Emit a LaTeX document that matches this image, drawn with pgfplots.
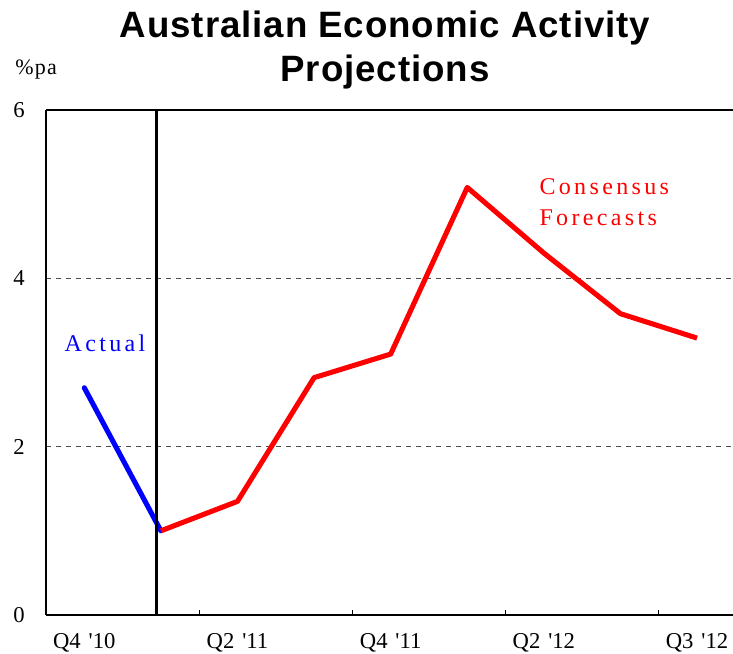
\documentclass[border=0pt]{standalone}
\usepackage{fontspec}
\setmainfont{Liberation Serif}
\newfontfamily\titlefont[LetterSpace=2.5]{Liberation Sans}
\newfontfamily\spaced[LetterSpace=14]{Liberation Serif}
\newfontfamily\pafont[LetterSpace=6]{Liberation Serif}
\usepackage{pgfplots}
\pgfplotsset{compat=1.18}
\definecolor{pblue}{RGB}{0,0,255}
\definecolor{pred}{RGB}{255,0,0}
\begin{document}
\begin{tikzpicture}
\begin{axis}[
  name=ax,
  at={(0,0)}, anchor=south west,
  scale only axis,
  width=517pt, height=378.75pt,
  xmin=-0.5, xmax=8.5,
  ymin=0, ymax=6,
  axis x line=box, axis y line=left,
  axis line style={-, line width=1.3pt, black},
  xtick={0,2,4,6,8},
  xticklabels={Q4\hspace{0.35em}\textquotesingle10, Q2\hspace{0.35em}\textquotesingle11, Q4\hspace{0.35em}\textquotesingle11, Q2\hspace{0.35em}\textquotesingle12, Q3\hspace{0.35em}\textquotesingle12},
  minor xtick={1.5,3.5,5.5,7.5},
  xtick pos=bottom,
  ytick={0,2,4,6},
  major tick length=0pt,
  minor tick length=4pt,
  tick align=inside,
  minor tick style={black, line width=0.6pt},
  ymajorgrids,
  grid style={dash pattern=on 4pt off 3.5pt, black!70, line width=0.6pt},
  /pgf/number format/assume math mode=true,
  xticklabel style={font=\fontsize{17}{18}\selectfont, anchor=base, yshift=-25pt},
  yticklabel style={font=\fontsize{17}{18}\selectfont, anchor=east, inner sep=0pt, xshift=-15.75pt},
  clip=false,
]
\addplot[draw=pblue, line width=3.8pt, line cap=round] coordinates {(0,2.70) (1,1.00)};
\addplot[draw=pred, line width=3.8pt, line join=round] coordinates {
  (1,1.00) (2,1.35) (3,2.82) (4,3.10) (5,5.08) (6,4.30) (7,3.58) (8,3.29)};
\draw[black, line width=2pt] (axis cs:0.94,0) -- (axis cs:0.94,6);
\node[anchor=base west, inner sep=0pt, text=pblue, font=\spaced\fontsize{18}{20}\selectfont] at (axis cs:-0.26,3.125) {Actual};
\node[anchor=base west, inner sep=0pt, text=pred, font=\spaced\fontsize{18}{20}\selectfont] at (axis cs:5.94,5.00) {Consensus};
\node[anchor=base west, inner sep=0pt, text=pred, font=\spaced\fontsize{18}{20}\selectfont] at (axis cs:5.94,4.63) {Forecasts};
\end{axis}
\node[anchor=base, inner sep=0pt, font=\titlefont\bfseries\fontsize{27.5}{30}\selectfont] at (254.25pt,432.75pt) {Australian Economic Activity};
\node[anchor=base, inner sep=0pt, font=\titlefont\bfseries\fontsize{27.5}{30}\selectfont] at (254.25pt,399.75pt) {Projections};
\node[anchor=base west, inner sep=0pt, font=\pafont\fontsize{16.5}{18}\selectfont] at (-23.25pt,405pt) {\%pa};
\pgfresetboundingbox
\path (-34.5pt,-29.25pt) rectangle (515.25pt,461.25pt);
\end{tikzpicture}
\end{document}
